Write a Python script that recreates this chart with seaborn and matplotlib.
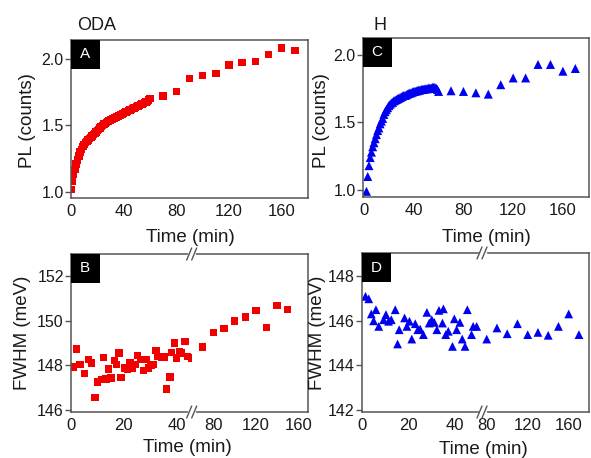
import matplotlib
matplotlib.use("Agg")
import matplotlib.pyplot as plt
from matplotlib.lines import Line2D
from matplotlib.patches import Rectangle
import pandas as pd
import seaborn as sns

sns.set_theme(style="white")
plt.rcParams["font.family"] = ["Liberation Sans", "DejaVu Sans"]

RED = "#f20000"
BLUE = "#0000f0"
SPINE = "#555555"
TXT = "#1a1a1a"

# ---- ODA: PL vs time (panel A) ----
oda_pl_time = list(range(0, 61)) + [70, 80, 90, 100, 110, 120, 130, 140, 150, 160, 170]
oda_pl = [1.02, 1.08, 1.13, 1.17, 1.21, 1.24, 1.27, 1.30, 1.32, 1.34,
          1.355, 1.37, 1.38, 1.39, 1.40, 1.41, 1.42, 1.43, 1.44, 1.45,
          1.46, 1.47, 1.48, 1.49, 1.50, 1.51, 1.515, 1.52, 1.53, 1.535,
          1.54, 1.545, 1.55, 1.555, 1.56, 1.565, 1.57, 1.575, 1.58, 1.585,
          1.59, 1.595, 1.60, 1.605, 1.61, 1.615, 1.62, 1.625, 1.63, 1.635,
          1.64, 1.645, 1.65, 1.655, 1.66, 1.665, 1.67, 1.675, 1.68, 1.69,
          1.70,
          1.72, 1.755, 1.85, 1.875, 1.89, 1.953, 1.97, 1.98, 2.03, 2.08, 2.06]

# ---- H: PL vs time (panel C) ----
h_pl_time = list(range(2, 61)) + [70, 80, 90, 100, 110, 120, 130, 140, 150, 160, 170]
h_pl = [0.99, 1.10, 1.18, 1.24, 1.28, 1.32, 1.35, 1.38, 1.41, 1.44,
        1.46, 1.49, 1.51, 1.53, 1.56, 1.58, 1.595, 1.61, 1.625, 1.635,
        1.645, 1.65, 1.66, 1.665, 1.67, 1.675, 1.68, 1.685, 1.69, 1.695,
        1.70, 1.70, 1.705, 1.71, 1.715, 1.72, 1.72, 1.725, 1.73, 1.73,
        1.735, 1.735, 1.74, 1.74, 1.745, 1.745, 1.745, 1.75, 1.75, 1.75,
        1.755, 1.755, 1.755, 1.76, 1.76, 1.76, 1.755, 1.745, 1.73,
        1.735, 1.73, 1.72, 1.71, 1.78, 1.83, 1.83, 1.93, 1.93, 1.88, 1.90]

# ---- ODA: FWHM vs time (panel B) ----
oda_fwhm_time = [0.9, 2.1, 3.4, 5.0, 6.6, 7.8, 9.1, 10.1, 11.6, 12.2,
                 13.2, 14.1, 15.1, 16.4, 17.3, 18.2, 18.9, 20.2, 21.5, 22.3,
                 23.3, 24.2, 25.2, 26.5, 27.4, 28.4, 29.3, 30.3, 31.2, 32.2,
                 33.0, 34.3, 35.3, 36.2, 37.5, 38.1, 39.1, 40.0, 41.0, 41.9,
                 43.1, 44.2, 45.6,
                 70, 80, 90, 100, 110, 120, 130, 140, 150]
oda_fwhm = [147.92, 148.73, 148.03, 147.62, 148.25, 148.10, 146.55, 147.25, 147.35, 148.36,
            147.38, 147.83, 147.43, 148.22, 148.03, 148.55, 147.46, 147.88, 147.80, 148.10,
            147.88, 148.03, 148.43, 148.25, 147.77, 148.25, 147.88, 147.98, 148.03, 148.66,
            148.40, 148.37, 148.37, 146.93, 147.47, 148.58, 149.00, 148.33, 148.63, 148.55,
            149.08, 148.40, 148.33,
            148.82, 149.48, 149.66, 149.99, 150.17, 150.46, 149.71, 150.68, 150.50]

# ---- H: FWHM vs time (panel D) ----
h_fwhm_time = [1.5, 2.9, 4.0, 5.0, 6.0, 7.2, 9.3, 10.3, 11.4, 12.6,
               14.3, 15.3, 16.0, 18.3, 19.3, 20.4, 21.4, 22.9, 24.0, 25.0,
               26.4, 27.9, 28.9, 30.0, 31.1, 32.2, 33.1, 34.6, 35.0, 36.0,
               37.1, 38.9, 39.7, 40.7, 42.1, 43.1, 44.3, 45.3, 47.1, 47.8,
               49.3,
               80, 90, 100, 110, 120, 130, 140, 150, 160, 170]
h_fwhm = [147.10, 146.99, 146.31, 146.00, 146.50, 145.75, 146.05, 146.28, 145.98, 146.05,
          146.50, 144.96, 145.60, 146.13, 145.75, 145.98, 145.18, 145.87, 145.60, 145.63,
          145.38, 146.38, 145.90, 146.05, 145.93, 145.60, 146.47, 145.90, 146.54, 145.38,
          145.53, 144.85, 146.09, 145.60, 145.93, 145.18, 144.85, 146.50, 145.38, 145.75,
          145.75,
          145.18, 145.68, 145.42, 145.87, 145.38, 145.48, 145.35, 145.75, 146.31, 145.38]

W, H = 591, 458
fig = plt.figure(figsize=(W / 100, H / 100), dpi=100)


def px_axes(left, right, top, bottom):
    return fig.add_axes([left / W, 1 - bottom / H, (right - left) / W, (bottom - top) / H])


def fx(x):
    return x / W


def fy(y):
    return 1 - y / H


def style(ax, yticks=True):
    for sp in ax.spines.values():
        sp.set_color(SPINE)
        sp.set_linewidth(1.1)
    ax.tick_params(axis="x", direction="in", length=4, width=1, color=SPINE,
                   labelsize=12, labelcolor=TXT, pad=4)
    ax.tick_params(axis="y", direction="out", length=4, width=1, color=SPINE,
                   labelsize=11.5, labelcolor=TXT, pad=1.2, left=yticks, labelleft=yticks)
    ax.set_xlabel("")
    ax.set_ylabel("")
    ax.grid(False)


def scatter(ax, t, v, marker, color, size):
    df = pd.DataFrame({"t": t, "v": v})
    sns.scatterplot(data=df, x="t", y="v", marker=marker, color=color, s=size,
                    linewidth=0, edgecolor="none", ax=ax, legend=False)


def panel_tag(left, top, letter):
    fig.patches.append(Rectangle((fx(left), fy(top + 29)), 29 / W, 29 / H,
                                 transform=fig.transFigure, facecolor="black",
                                 edgecolor="none", zorder=10))
    fig.text(fx(left + 14), fy(top + 14.5), letter, color="white", fontsize=11,
             ha="center", va="center", zorder=11)


def break_mark(x, y):
    # white gap in the spine with two slanted strokes
    fig.lines.append(Line2D([fx(x - 2.5), fx(x + 2.5)], [fy(y), fy(y)],
                            transform=fig.transFigure, color="white", lw=2.5, zorder=12))
    for dx in (-2.5, 2.5):
        fig.lines.append(Line2D([fx(x + dx - 2.5), fx(x + dx + 2.5)], [fy(y + 6), fy(y - 6)],
                                transform=fig.transFigure, color=SPINE, lw=1.0, zorder=13))


# Panel A
axA = px_axes(71, 308, 40, 198)
scatter(axA, oda_pl_time, oda_pl, "s", RED, 30)
axA.set_xlim(0, 180)
axA.set_ylim(0.955, 2.14)
axA.set_xticks([0, 40, 80, 120, 160])
axA.set_yticks([1.0, 1.5, 2.0])
axA.set_yticklabels(["1.0", "1.5", "2.0"])
style(axA)

# Panel C
axC = px_axes(363, 589, 38, 197)
scatter(axC, h_pl_time, h_pl, "^", BLUE, 42)
axC.set_xlim(-0.8, 181)
axC.set_ylim(0.948, 2.126)
axC.set_xticks([0, 40, 80, 120, 160])
axC.set_yticks([1.0, 1.5, 2.0])
axC.set_yticklabels(["1.0", "1.5", "2.0"])
style(axC)

# Panel B (broken time axis)
axBl = px_axes(71, 191.7, 254, 412)
axBr = px_axes(191.7, 308, 254, 412)
for ax in (axBl, axBr):
    scatter(ax, oda_fwhm_time, oda_fwhm, "s", RED, 28)
    ax.set_ylim(145.9, 153.0)
axBl.set_xlim(0, 45.7)
axBr.set_xlim(59.7, 169)
axBl.set_yticks([146, 148, 150, 152])
axBr.set_yticks([146, 148, 150, 152])
axBl.set_xticks([0, 20, 40])
axBr.set_xticks([80, 100, 120, 140, 160])
axBr.set_xticklabels(["80", "", "120", "", "160"])
style(axBl)
style(axBr, yticks=False)
axBl.spines["right"].set_visible(False)
axBr.spines["left"].set_visible(False)

# Panel D (broken time axis)
axDl = px_axes(362, 482, 253, 412)
axDr = px_axes(482, 589, 253, 412)
for ax in (axDl, axDr):
    scatter(ax, h_fwhm_time, h_fwhm, "^", BLUE, 40)
    ax.set_ylim(141.9, 149.05)
axDl.set_xlim(0, 51.6)
axDr.set_xlim(75.4, 179.8)
axDl.set_yticks([142, 144, 146, 148])
axDr.set_yticks([142, 144, 146, 148])
axDl.set_xticks([0, 20, 40])
axDr.set_xticks([80, 100, 120, 140, 160])
axDr.set_xticklabels(["80", "", "120", "", "160"])
style(axDl)
style(axDr, yticks=False)
axDl.spines["right"].set_visible(False)
axDr.spines["left"].set_visible(False)

for x, yt, yb in ((191.7, 254, 412), (482, 253, 412)):
    break_mark(x, yt)
    break_mark(x, yb)

# Panel tags
panel_tag(71, 40, "A")
panel_tag(363, 38, "C")
panel_tag(71, 254, "B")
panel_tag(362, 253, "D")

# Column titles
fig.text(fx(97), fy(25), "ODA", fontsize=13, color=TXT, ha="center", va="center")
fig.text(fx(380), fy(25), "H", fontsize=13, color=TXT, ha="center", va="center")

# Axis labels
lab = dict(fontsize=13.5, color=TXT, ha="center", va="center")
fig.text(fx(27), fy(121), "PL (counts)", rotation=90, **lab)
fig.text(fx(322), fy(121), "PL (counts)", rotation=90, **lab)
fig.text(fx(23), fy(333), "FWHM (meV)", rotation=90, **lab)
fig.text(fx(318), fy(333), "FWHM (meV)", rotation=90, **lab)
fig.text(fx(190), fy(237), "Time (min)", **lab)
fig.text(fx(486), fy(237), "Time (min)", **lab)
fig.text(fx(187), fy(448), "Time (min)", **lab)
fig.text(fx(483), fy(450), "Time (min)", **lab)

fig.savefig("out.png", dpi=100)
